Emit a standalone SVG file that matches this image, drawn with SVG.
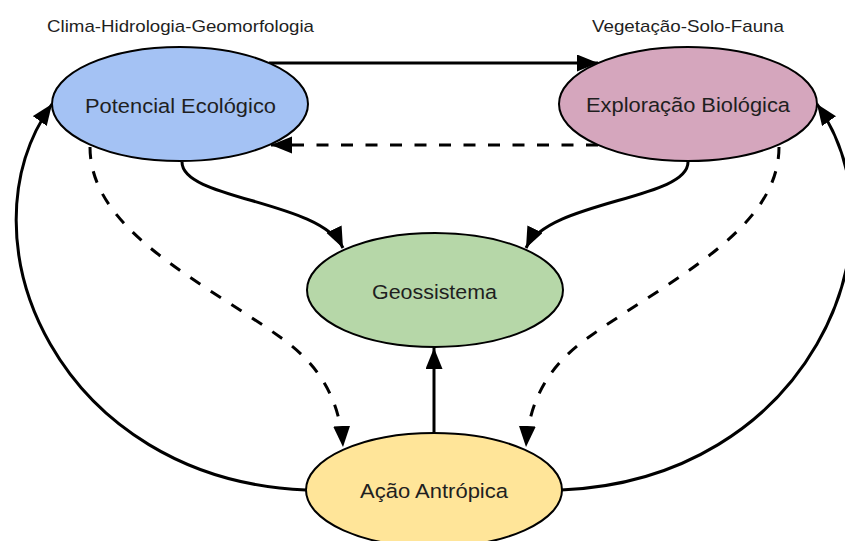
<svg xmlns="http://www.w3.org/2000/svg" width="845" height="541" viewBox="0 0 845 541">
  <style>
    .node ellipse { stroke: #000; stroke-width: 2; }
    .label { font-family: "Liberation Sans", Arial, sans-serif; font-size: 20.5px; fill: #1f1f1f; text-anchor: middle; }
    .head { font-family: "Liberation Sans", Arial, sans-serif; font-size: 17px; fill: #1f1f1f; text-anchor: middle; }
    .edge { fill: none; stroke: #000; stroke-width: 3; }
    .dash { stroke-dasharray: 12 12.5; }
  </style>
  <defs>
    <marker id="arrow" markerUnits="userSpaceOnUse" markerWidth="24" markerHeight="18" refX="21" refY="8.5" orient="auto">
      <path d="M0,0 L21,8.5 L0,17 z" fill="#000"/>
    </marker>
  </defs>
  <rect width="845" height="541" fill="#fff"/>

  <!-- group captions -->
  <text class="head" x="180.5" y="32" textLength="267" lengthAdjust="spacingAndGlyphs">Clima-Hidrologia-Geomorfologia</text>
  <text class="head" x="688" y="32" textLength="192" lengthAdjust="spacingAndGlyphs">Vegetação-Solo-Fauna</text>

  <!-- connectors -->
  <g id="connectors">
    <path class="edge" d="M269,63 L598,63" marker-end="url(#arrow)"/>
    <path class="edge dash" d="M598,145 L271,145" marker-end="url(#arrow)"/>
    <path class="edge" d="M182,162 C182,200 320,200 343,248" marker-end="url(#arrow)"/>
    <path class="edge" d="M688,162 C688,200 549,200 526,248" marker-end="url(#arrow)"/>
    <path class="edge dash" d="M90,147 C90,230 200,280 280,337 C320,365 340,400 343,447" marker-end="url(#arrow)"/>
    <path class="edge dash" d="M779,147 C779,230 669,280 589,337 C549,365 529,400 526,447" marker-end="url(#arrow)"/>
    <path class="edge" d="M434,432 L434,348" marker-end="url(#arrow)"/>
    <path class="edge" d="M306,490 C60,480 -45,240 52,104" marker-end="url(#arrow)"/>
    <path class="edge" d="M561,490 C807,480 912,240 817,104" marker-end="url(#arrow)"/>
  </g>

  <!-- nodes -->
  <g id="potencial-ecologico" class="node">
    <ellipse cx="180" cy="104" rx="128" ry="57" fill="#a4c2f4"/>
    <text class="label" x="180.5" y="112.5" textLength="191" lengthAdjust="spacingAndGlyphs">Potencial Ecológico</text>
  </g>
  <g id="exploracao-biologica" class="node">
    <ellipse cx="688" cy="104" rx="129" ry="57" fill="#d5a6bd"/>
    <text class="label" x="688" y="112" textLength="204" lengthAdjust="spacingAndGlyphs">Exploração Biológica</text>
  </g>
  <g id="geossistema" class="node">
    <ellipse cx="435" cy="290" rx="128" ry="57" fill="#b6d7a8"/>
    <text class="label" x="434.5" y="299" textLength="125" lengthAdjust="spacingAndGlyphs">Geossistema</text>
  </g>
  <g id="acao-antropica" class="node">
    <ellipse cx="434" cy="490" rx="128" ry="57" fill="#ffe599"/>
    <text class="label" x="434" y="497.5" textLength="148" lengthAdjust="spacingAndGlyphs">Ação Antrópica</text>
  </g>
</svg>
